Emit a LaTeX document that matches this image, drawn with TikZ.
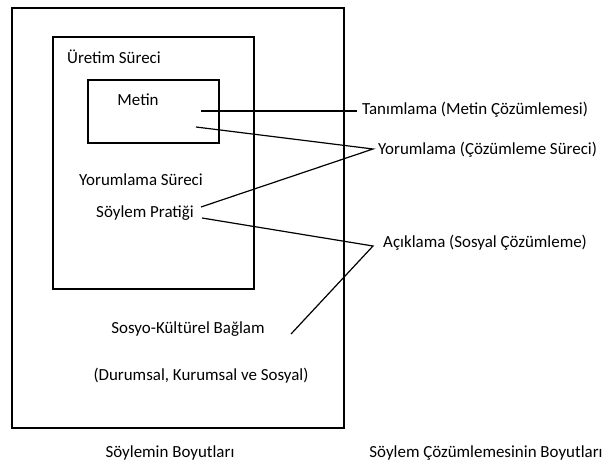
\documentclass[tikz,border=0pt]{standalone}
\usepackage{fontspec}
\setmainfont{Carlito}
\begin{document}
\begin{tikzpicture}[x=1bp,y=-1bp,
  lbl/.style={font=\fontsize{17}{20}\selectfont, inner sep=0pt},
  box/.style={draw, line width=2.7bp},
  conn/.style={line width=1.2bp}]
\useasboundingbox[fill=white] (0,0) rectangle (606,466);
% boxes
\draw[box] (12,8) rectangle (344,428);
\draw[box] (53,37) rectangle (254,289);
\draw[box] (88,80) rectangle (219,143);
% labels
\node[lbl] (uretim) at (114,57) {Üretim Süreci};
\node[lbl] (metin) at (138,100) {Metin};
\node[lbl] (yorsur) at (141,180) {Yorumlama Süreci};
\node[lbl] (pratik) at (145,213) {Söylem Pratiği};
\node[lbl] (sosyo) at (188,329) {Sosyo-Kültürel Bağlam};
\node[lbl] (durum) at (201,376) {(Durumsal, Kurumsal ve Sosyal)};
\node[lbl] (boyut1) at (170,453) {Söylemin Boyutları};
\node[lbl, anchor=west] (tan) at (362,110) {Tanımlama (Metin Çözümlemesi)};
\node[lbl, anchor=west] (yor) at (378,150) {Yorumlama (Çözümleme Süreci)};
\node[lbl, anchor=west] (acik) at (383,243) {Açıklama (Sosyal Çözümleme)};
\node[lbl] (boyut2) at (486,453) {Söylem Çözümlemesinin Boyutları};
% connector points
\coordinate (m1) at (201,111);
\coordinate (m2) at (196,127);
\coordinate (sp1) at (201,207);
\coordinate (sp2) at (202,218);
\coordinate (sk) at (291,334);
\coordinate (tanpt) at (357,111);
\coordinate (yorpt) at (373,149);
\coordinate (acpt) at (373,246);
% connectors
\draw[conn] (m1) -- (tanpt);
\draw[conn] (m2) -- (yorpt) -- (sp1);
\draw[conn] (sp2) -- (acpt) -- (sk);
\end{tikzpicture}
\end{document}
